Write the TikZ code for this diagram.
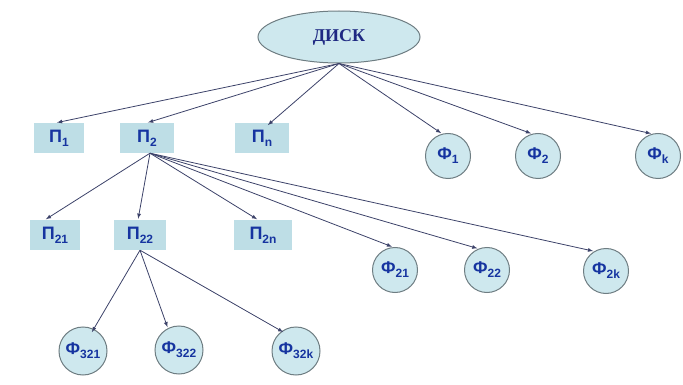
\documentclass[tikz,border=0pt]{standalone}
\usepackage{fontspec}
\setmainfont{Liberation Sans}
\newfontfamily\diskfont{Liberation Serif}
\usepackage{tikz}
\tikzset{>=latex}
\usetikzlibrary{arrows.meta}
\usetikzlibrary{shapes}
\definecolor{boxfill}{RGB}{190,222,230}
\definecolor{nodefill}{RGB}{206,232,238}
\definecolor{rimgray}{RGB}{110,125,130}
\definecolor{letterblue}{RGB}{22,52,160}
\definecolor{diskblue}{RGB}{30,40,130}
\definecolor{linkcol}{RGB}{60,66,105}
\newcommand\idx[1]{\raisebox{-0.45ex}{\fontsize{12}{12}\selectfont #1}}

\begin{document}
\begin{tikzpicture}[x=1pt, y=-1pt]
            \tikzset{dir/.style={fill=boxfill, minimum width=50pt, minimum height=30pt, inner sep=0pt, text=letterblue, font=\fontsize{18}{18}\selectfont\bfseries}}
            \tikzset{file/.style={circle, draw=rimgray, line width=1pt, fill=nodefill, minimum size=45pt, inner sep=0pt, text=letterblue, font=\fontsize{17}{17}\selectfont\bfseries}}
            \tikzset{arc/.style={->, linkcol, line width=0.8pt, shorten >=1pt}}
            \useasboundingbox (0, 0) rectangle (683, 385);

            \node[ellipse, draw=rimgray, line width=1pt, fill=nodefill, minimum width=162pt, minimum height=52pt, text=diskblue, font=\fontsize{18}{18}\selectfont\diskfont\bfseries] (disk) at (339, 37) {ДИСК};

            \node[dir] (p1) at (59, 138) {П\idx{1}};
            \node[dir, minimum width=54pt] (p2) at (147, 138) {П\idx{2}};
            \node[dir, minimum width=54pt] (pn) at (262, 138) {П\idx{n}};
            \node[file] (f1) at (448, 156) {Ф\idx{1}};
            \node[file] (f2) at (538, 156) {Ф\idx{2}};
            \node[file] (fk) at (658, 156) {Ф\idx{k}};

            \node[dir] (p21) at (55, 235) {П\idx{21}};
            \node[dir, minimum width=52pt] (p22) at (140, 235) {П\idx{22}};
            \node[dir, minimum width=58pt] (p2n) at (263, 235) {П\idx{2n}};
            \node[file] (f21) at (395, 270) {Ф\idx{21}};
            \node[file] (f22) at (487, 270) {Ф\idx{22}};
            \node[file] (f2k) at (606, 271) {Ф\idx{2k}};

            \node[file, minimum size=48pt] (f321) at (83, 351) {Ф\idx{321}};
            \node[file, minimum size=48pt] (f322) at (179, 350) {Ф\idx{322}};
            \node[file, minimum size=48pt] (f32k) at (296, 351) {Ф\idx{32k}};

            \draw[arc] (disk.south) -- ([xshift=-3pt]p1.north);
            \draw[arc] (disk.south) -- (p2.north);
            \draw[arc] (disk.south) -- ([xshift=5pt, yshift=-3pt]pn.north);
            \draw[arc] (disk.south) -- (f1.105);
            \draw[arc] (disk.south) -- (f2.105);
            \draw[arc] (disk.south) -- (fk.105);

            \draw[arc] ([xshift=3pt]p2.south) -- ([xshift=-10pt]p21.north);
            \draw[arc] ([xshift=3pt]p2.south) -- ([xshift=-2pt]p22.north);
            \draw[arc] ([xshift=3pt]p2.south) -- ([xshift=-5pt]p2n.north);
            \draw[arc] ([xshift=3pt]p2.south) -- (f21.95);
            \draw[arc] ([xshift=3pt]p2.south) -- (f22.112);
            \draw[arc] ([xshift=3pt]p2.south) -- (f2k.121);

            \draw[arc] (p22.south) -- ([yshift=-5pt]f321.70);
            \draw[arc] (p22.south) -- (f322.117);
            \draw[arc] (p22.south) -- ([yshift=-3pt]f32k.119);
\end{tikzpicture}
\end{document}
